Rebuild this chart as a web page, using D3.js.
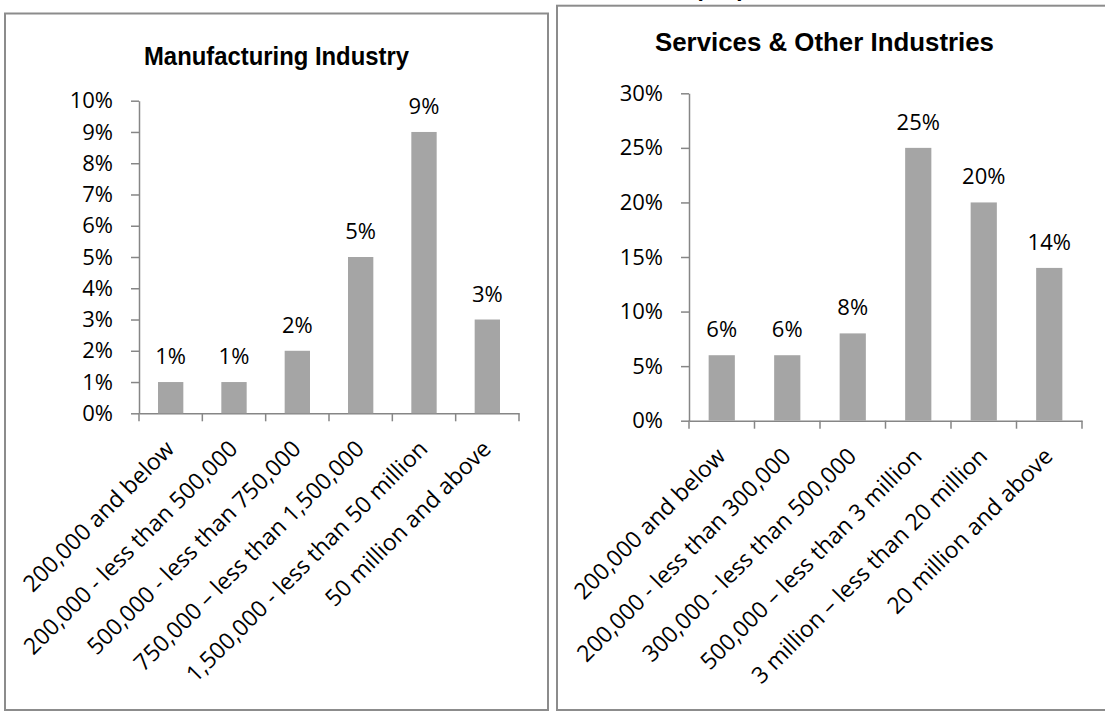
<!DOCTYPE html>
<html>
<head>
<meta charset="utf-8">
<script src="https://cdn.jsdelivr.net/npm/d3@7"></script>
<style>
  body { margin: 0; background: #fff; }
  svg { display: block; }
  text { font-family: "Open Sans", "Noto Sans", sans-serif; fill: #000; }
</style>
</head>
<body>
<svg id="chart" width="1105" height="712"></svg>
<script>
// Sales turnover bands and share of firms, by sector
const headerText = "(RM)";

const mfgTitle = "Manufacturing Industry";
const mfgCategories = [
  "200,000 and below",
  "200,000 - less than 500,000",
  "500,000 - less than 750,000",
  "750,000 \u2013 less than 1,500,000",
  "1,500,000 - less than 50 million",
  "50 million and above"
];
const mfgValues = [1, 1, 2, 5, 9, 3];
const mfgTicks = [0, 1, 2, 3, 4, 5, 6, 7, 8, 9, 10];

const svcTitle = "Services & Other Industries";
const svcCategories = [
  "200,000 and below",
  "200,000 - less than 300,000",
  "300,000 - less than 500,000",
  "500,000 \u2013 less than 3 million",
  "3 million \u2013 less than 20 million",
  "20 million and above"
];
const svcValues = [6, 6, 8, 25, 20, 14];
const svcTicks = [0, 5, 10, 15, 20, 25, 30];

const svg = d3.select("#chart");
const AXIS = "#868686";
const BAR = "#a5a5a5";
const FRAME = "#8c8c8c";
const FONT = 22;      // tick and value labels
const CAT_FONT = 23;  // rotated category labels

// heading above the right panel, mostly outside the page
svg.append("text")
  .attr("x", 720).attr("y", -4)
  .attr("text-anchor", "middle")
  .style("font-family", "'Liberation Sans', Arial, sans-serif")
  .style("font-weight", "bold")
  .style("font-size", "25px")
  .attr("textLength", 50).attr("lengthAdjust", "spacingAndGlyphs")
  .text(headerText);

function drawPanel(opt) {
  const { frame, plot, title, categories, values, ticks } = opt;
  const g = svg.append("g");

  g.append("rect")
    .attr("x", frame.x).attr("y", frame.y)
    .attr("width", frame.w).attr("height", frame.h)
    .attr("fill", "#fff")
    .attr("stroke", FRAME).attr("stroke-width", 2);

  g.append("text")
    .attr("x", title.x).attr("y", title.y)
    .attr("text-anchor", "middle")
    .style("font-family", "'Liberation Sans', Arial, sans-serif")
    .style("font-weight", "bold")
    .style("font-size", "26px")
    .attr("textLength", title.len).attr("lengthAdjust", "spacingAndGlyphs")
    .text(title.text);

  const x = d3.scaleBand().domain(categories).range([plot.x0, plot.x1]).padding(0);
  const y = d3.scaleLinear().domain([0, d3.max(ticks)]).range([plot.yBot, plot.yTop]);
  const bw = x.bandwidth();

  // value axis
  const yAxis = d3.axisLeft(y)
    .tickValues(ticks)
    .tickSizeInner(8).tickSizeOuter(0)
    .tickPadding(18)
    .tickFormat(d => d + "%");
  const ya = g.append("g").attr("transform", `translate(${plot.x0},0)`).call(yAxis);
  ya.selectAll("path, line").attr("stroke", AXIS).attr("stroke-width", 1.5);
  ya.selectAll("text").style("font-size", FONT + "px").attr("fill", "#000")
    .style("font-family", "'Open Sans', sans-serif");

  // category axis line
  const xAxis = d3.axisBottom(x).tickSize(0).tickFormat("");
  const xa = g.append("g").attr("transform", `translate(0,${plot.yBot})`).call(xAxis);
  xa.selectAll("path").attr("stroke", AXIS).attr("stroke-width", 1.5);
  xa.selectAll(".tick").remove();

  // tick marks at category boundaries
  const bounds = categories.map(c => x(c)).concat([x(categories[categories.length - 1]) + bw]);
  g.selectAll(".xtick").data(bounds).join("line")
    .attr("x1", d => d).attr("x2", d => d)
    .attr("y1", plot.yBot).attr("y2", plot.yBot + 8)
    .attr("stroke", AXIS).attr("stroke-width", 1.5);

  // bars
  g.selectAll(".bar").data(values).join("rect")
    .attr("x", (d, i) => x(categories[i]) + bw * 0.3)
    .attr("width", bw * 0.4)
    .attr("y", d => y(d))
    .attr("height", d => y(0) - y(d))
    .attr("fill", BAR);

  // value labels
  g.selectAll(".vlabel").data(values).join("text")
    .attr("x", (d, i) => x(categories[i]) + bw / 2)
    .attr("y", d => y(d) - 18)
    .attr("text-anchor", "middle")
    .style("font-size", FONT + "px")
    .text(d => d + "%");

  // rotated category labels
  g.selectAll(".clabel").data(categories).join("text")
    .attr("text-anchor", "end")
    .attr("transform", d => `translate(${x(d) + bw / 2 + 5},${plot.yBot + 37}) rotate(-45)`)
    .style("font-size", CAT_FONT + "px")
    .text(d => d);
}

drawPanel({
  frame: { x: 5, y: 13.5, w: 543, h: 696.5 },
  plot: { x0: 139, x1: 519, yTop: 100.7, yBot: 413.3 },
  title: { x: 276.5, y: 65, len: 265, text: mfgTitle },
  categories: mfgCategories, values: mfgValues, ticks: mfgTicks
});

drawPanel({
  frame: { x: 557, y: 5.7, w: 560, h: 704.3 },
  plot: { x0: 689, x1: 1082, yTop: 93.3, yBot: 420.7 },
  title: { x: 824.5, y: 51, len: 339, text: svcTitle },
  categories: svcCategories, values: svcValues, ticks: svcTicks
});
</script>
</body>
</html>
